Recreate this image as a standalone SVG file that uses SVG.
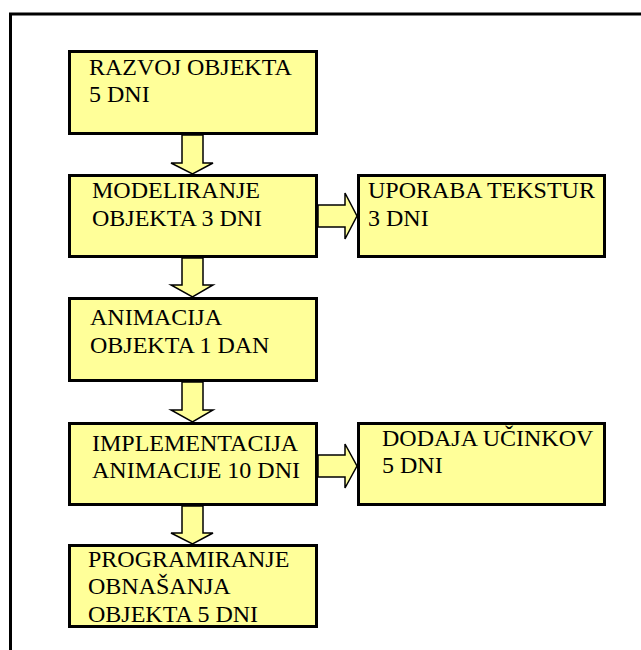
<svg xmlns="http://www.w3.org/2000/svg" width="641" height="650" viewBox="0 0 641 650">
  <style>
    .box { fill: #ffff99; stroke: #000; stroke-width: 3; }
    .arr { fill: #ffff99; stroke: #000; stroke-width: 1.5; stroke-linejoin: miter; }
    .frame { fill: none; stroke: #000; stroke-width: 3; }
  </style>
  <rect x="0" y="0" width="641" height="650" fill="#fff"/>
  <path class="frame" d="M10.5,650 V14 H641"/>

  <g font-family="Liberation Serif, DejaVu Serif, serif" font-size="24" fill="#000">
  <g id="n1">
    <rect class="box" x="69.5" y="51.5" width="247" height="82"/>
    <text x="89" y="75">RAZVOJ OBJEKTA</text>
    <text x="89" y="102">5 DNI</text>
  </g>
  <g id="n2">
    <rect class="box" x="69.5" y="175.5" width="247" height="81"/>
    <text x="92" y="198">MODELIRANJE</text>
    <text x="92" y="226">OBJEKTA 3 DNI</text>
  </g>
  <g id="n3">
    <rect class="box" x="358.5" y="175.5" width="246" height="81"/>
    <text x="368" y="198">UPORABA TEKSTUR</text>
    <text x="368" y="226">3 DNI</text>
  </g>
  <g id="n4">
    <rect class="box" x="69.5" y="298.5" width="247" height="82"/>
    <text x="90" y="325">ANIMACIJA</text>
    <text x="90" y="353">OBJEKTA 1 DAN</text>
  </g>
  <g id="n5">
    <rect class="box" x="69.5" y="423.5" width="247" height="81"/>
    <text x="92" y="451">IMPLEMENTACIJA</text>
    <text x="92" y="478">ANIMACIJE 10 DNI</text>
  </g>
  <g id="n6">
    <rect class="box" x="358.5" y="423.5" width="246" height="81"/>
    <text x="382" y="446">DODAJA UČINKOV</text>
    <text x="382" y="473">5 DNI</text>
  </g>
  <g id="n7">
    <rect class="box" x="69.5" y="545.5" width="247" height="81"/>
    <text x="88" y="567">PROGRAMIRANJE</text>
    <text x="88" y="594">OBNAŠANJA</text>
    <text x="88" y="622">OBJEKTA 5 DNI</text>
  </g>
  </g>

  <g id="connectors">
    <polygon class="arr" points="182,135 203,135 203,163 213,163 192.5,174 171,163 182,163"/>
    <polygon class="arr" points="182,258 203,258 203,285 213,285 192.5,297 171,285 182,285"/>
    <polygon class="arr" points="182,382 203,382 203,410 213,410 192.5,422 171,410 182,410"/>
    <polygon class="arr" points="182,506 203,506 203,533 213,533 192.5,544 171,533 182,533"/>
    <polygon class="arr" points="318,205 345,205 345,193 357,216 345,239 345,227 318,227"/>
    <polygon class="arr" points="318,455 345,455 345,444 357,466 345,488 345,477 318,477"/>
  </g>
</svg>
